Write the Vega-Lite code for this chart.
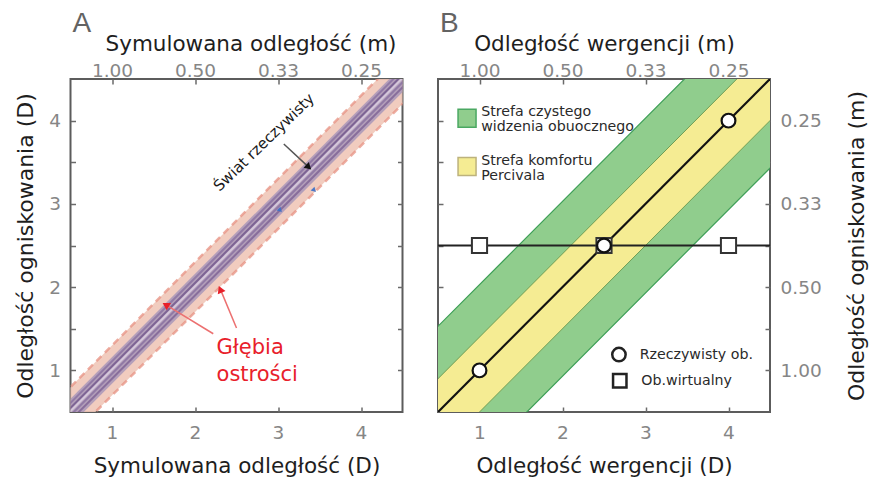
{
  "$schema": "https://vega.github.io/schema/vega-lite/v6.json",
  "background": "white",
  "padding": {"left": 13.5, "top": 9, "right": 2, "bottom": 5},
  "spacing": 35.5,
  "bounds": "flush",
  "config": {
    "view": {"stroke": "#5c5c5c", "strokeWidth": 2},
    "axis": {
      "domain": false,
      "grid": false,
      "tickColor": "#6a6a6a",
      "tickSize": -5,
      "tickWidth": 1.5,
      "labelFont": "DejaVu Sans",
      "labelFontSize": 18.5,
      "labelColor": "#868686",
      "titleFont": "DejaVu Sans",
      "titleFontSize": 21.5,
      "titleFontWeight": "normal",
      "titleColor": "#1e1e1e"
    },
    "title": {"font": "Liberation Sans", "fontSize": 28, "fontWeight": "normal", "color": "#636363", "anchor": "start", "frame": "group", "offset": -5, "dx": 2}
  },
  "hconcat": [
    {
      "title": {"text": "A"},
      "width": 332,
      "height": 333,
      "resolve": {"axis": {"x": "independent", "y": "independent"}},
      "layer": [
        {
          "data": {"values": [{"x": 0.2, "lo": -0.1, "hi": 0.5}, {"x": 4.8, "lo": 4.5, "hi": 5.1}]},
          "mark": {"type": "area", "clip": true, "color": "#f0c7b8", "opacity": 0.9},
          "encoding": {
            "x": {"field": "x", "type": "quantitative", "scale": {"domain": [0.5, 4.5], "nice": false, "zero": false},
              "axis": {"orient": "bottom", "values": [1, 2, 3, 4], "title": "Symulowana odległość (D)", "labelPadding": 16, "titlePadding": 14}},
            "y": {"field": "lo", "type": "quantitative", "scale": {"domain": [0.5, 4.5], "nice": false, "zero": false},
              "axis": {"orient": "left", "values": [1, 1.5, 2, 2.5, 3, 3.5, 4], "labelExpr": "datum.value % 1 === 0 ? format(datum.value, 'd') : ''", "title": "Odległość ogniskowania (D)", "titleFontSize": 22, "labelPadding": 15, "titlePadding": 11}},
            "y2": {"field": "hi"}
          }
        },
        {
          "data": {"values": [
            {"k": "lo", "x": 0.2, "y": -0.1}, {"k": "lo", "x": 4.8, "y": 4.5},
            {"k": "hi", "x": 0.2, "y": 0.5}, {"k": "hi", "x": 4.8, "y": 5.1}
          ]},
          "mark": {"type": "line", "clip": true, "color": "#e79283", "strokeWidth": 2.5, "strokeDash": [7, 5], "opacity": 0.75},
          "encoding": {
            "x": {"field": "x", "type": "quantitative", "scale": {"domain": [0.5, 4.5], "nice": false, "zero": false},
              "axis": {"orient": "top", "values": [1, 2, 3, 4], "labelExpr": "format(1 / datum.value, '.2f')", "title": "Symulowana odległość (m)", "labelPadding": 4, "titlePadding": 6, "titleX": 180}},
            "y": {"field": "y", "type": "quantitative", "scale": {"domain": [0.5, 4.5], "nice": false, "zero": false},
              "axis": {"orient": "right", "values": [1, 1.5, 2, 2.5, 3, 3.5, 4], "labels": false, "title": null}},
            "detail": {"field": "k"}
          }
        },
        {
          "data": {"values": [{"x": 0.2, "lo": 0.04, "hi": 0.36}, {"x": 4.8, "lo": 4.64, "hi": 4.96}]},
          "mark": {"type": "area", "clip": true, "color": "#a996b9", "opacity": 0.85},
          "encoding": {
            "x": {"field": "x", "type": "quantitative", "axis": null},
            "y": {"field": "lo", "type": "quantitative", "axis": null},
            "y2": {"field": "hi"}
          }
        },
        {
          "data": {"values": [
            {"k": "a", "x": 0.2, "y": 0.1}, {"k": "a", "x": 4.8, "y": 4.7},
            {"k": "b", "x": 0.2, "y": 0.16}, {"k": "b", "x": 4.8, "y": 4.76},
            {"k": "c", "x": 0.2, "y": 0.25}, {"k": "c", "x": 4.8, "y": 4.85},
            {"k": "d", "x": 0.2, "y": 0.31}, {"k": "d", "x": 4.8, "y": 4.91},
            {"k": "e", "x": 0.2, "y": 0.21}, {"k": "e", "x": 4.8, "y": 4.81}
          ]},
          "mark": {"type": "line", "clip": true, "strokeWidth": 2, "opacity": 0.7},
          "encoding": {
            "x": {"field": "x", "type": "quantitative", "axis": null},
            "y": {"field": "y", "type": "quantitative", "axis": null},
            "detail": {"field": "k"},
            "color": {"field": "k", "type": "nominal", "legend": null,
              "scale": {"domain": ["a", "b", "c", "d", "e"], "range": ["#75598f", "#826a9c", "#654a84", "#836b9e", "#e2d8ea"]}}
          }
        },
        {
          "data": {"values": [{"x": 3.02, "y": 2.93}, {"x": 3.43, "y": 3.17}]},
          "mark": {"type": "point", "shape": "triangle", "filled": true, "color": "#3b6fc6", "size": 30, "angle": 135, "opacity": 0.9},
          "encoding": {
            "x": {"field": "x", "type": "quantitative", "axis": null},
            "y": {"field": "y", "type": "quantitative", "axis": null}
          }
        },
        {
          "data": {"values": [{"x": 3.07, "y": 3.72, "x2": 3.36, "y2": 3.45}]},
          "mark": {"type": "rule", "color": "#555555", "strokeWidth": 1.5},
          "encoding": {
            "x": {"field": "x", "type": "quantitative", "axis": null},
            "y": {"field": "y", "type": "quantitative", "axis": null},
            "x2": {"field": "x2"},
            "y2": {"field": "y2"}
          }
        },
        {
          "data": {"values": [{"x": 3.36, "y": 3.45}]},
          "mark": {"type": "point", "shape": "triangle", "filled": true, "color": "#111111", "size": 60, "angle": 132, "opacity": 1},
          "encoding": {
            "x": {"field": "x", "type": "quantitative", "axis": null},
            "y": {"field": "y", "type": "quantitative", "axis": null}
          }
        },
        {
          "data": {"values": [{"x": 2.83, "y": 3.74, "t": "Świat rzeczywisty"}]},
          "mark": {"type": "text", "font": "DejaVu Sans", "fontSize": 15, "color": "#1a1a1a", "angle": 316, "align": "center", "baseline": "middle"},
          "encoding": {
            "x": {"field": "x", "type": "quantitative", "axis": null},
            "y": {"field": "y", "type": "quantitative", "axis": null},
            "text": {"field": "t"}
          }
        },
        {
          "data": {"values": [
            {"x": 2.22, "y": 1.44, "x2": 1.68, "y2": 1.77},
            {"x": 2.5, "y": 1.51, "x2": 2.32, "y2": 1.94}
          ]},
          "mark": {"type": "rule", "color": "#ec7070", "strokeWidth": 1.5},
          "encoding": {
            "x": {"field": "x", "type": "quantitative", "axis": null},
            "y": {"field": "y", "type": "quantitative", "axis": null},
            "x2": {"field": "x2"},
            "y2": {"field": "y2"}
          }
        },
        {
          "data": {"values": [{"x": 1.66, "y": 1.78}]},
          "mark": {"type": "point", "shape": "triangle", "filled": true, "color": "#e8202a", "size": 70, "angle": 301, "opacity": 1},
          "encoding": {
            "x": {"field": "x", "type": "quantitative", "axis": null},
            "y": {"field": "y", "type": "quantitative", "axis": null}
          }
        },
        {
          "data": {"values": [{"x": 2.31, "y": 1.96}]},
          "mark": {"type": "point", "shape": "triangle", "filled": true, "color": "#e8202a", "size": 70, "angle": 337, "opacity": 1},
          "encoding": {
            "x": {"field": "x", "type": "quantitative", "axis": null},
            "y": {"field": "y", "type": "quantitative", "axis": null}
          }
        },
        {
          "data": {"values": [{"x": 2.26, "y": 1.27, "t": "Głębia"}, {"x": 2.26, "y": 0.95, "t": "ostrości"}]},
          "mark": {"type": "text", "font": "DejaVu Sans", "fontSize": 21, "color": "#e8202a", "align": "left", "baseline": "middle"},
          "encoding": {
            "x": {"field": "x", "type": "quantitative", "axis": null},
            "y": {"field": "y", "type": "quantitative", "axis": null},
            "text": {"field": "t"}
          }
        }
      ]
    },
    {
      "title": {"text": "B"},
      "width": 332,
      "height": 333,
      "resolve": {"axis": {"x": "independent", "y": "independent"}},
      "layer": [
        {
          "data": {"values": [{"x": 0, "lo": -1.07, "hi": 1.03}, {"x": 5, "lo": 3.93, "hi": 6.03}]},
          "mark": {"type": "area", "clip": true, "color": "#90cd8d", "stroke": "#3d9f57", "strokeWidth": 1.2},
          "encoding": {
            "x": {"field": "x", "type": "quantitative", "scale": {"domain": [0.5, 4.5], "nice": false, "zero": false},
              "axis": {"orient": "bottom", "values": [1, 2, 3, 4], "title": "Odległość wergencji (D)", "labelPadding": 16, "titlePadding": 14}},
            "y": {"field": "lo", "type": "quantitative", "scale": {"domain": [0.5, 4.5], "nice": false, "zero": false},
              "axis": {"orient": "left", "values": [1, 1.5, 2, 2.5, 3, 3.5, 4], "labels": false, "title": null}},
            "y2": {"field": "hi"}
          }
        },
        {
          "data": {"values": [{"x": 0, "lo": -0.5, "hi": 0.4}, {"x": 5, "lo": 4.5, "hi": 5.4}]},
          "mark": {"type": "area", "clip": true, "color": "#f5ec93", "stroke": "#6f9e55", "strokeWidth": 1},
          "encoding": {
            "x": {"field": "x", "type": "quantitative", "scale": {"domain": [0.5, 4.5], "nice": false, "zero": false},
              "axis": {"orient": "top", "values": [1, 2, 3, 4], "labelExpr": "format(1 / datum.value, '.2f')", "title": "Odległość wergencji (m)", "labelPadding": 4, "titlePadding": 6}},
            "y": {"field": "lo", "type": "quantitative", "scale": {"domain": [0.5, 4.5], "nice": false, "zero": false},
              "axis": {"orient": "right", "values": [1, 1.5, 2, 2.5, 3, 3.5, 4], "labelExpr": "datum.value % 1 === 0 ? format(1 / datum.value, '.2f') : ''", "title": "Odległość ogniskowania (m)", "titleAngle": 270, "titleBaseline": "top", "titleFontSize": 22, "labelPadding": 15, "titlePadding": 25}},
            "y2": {"field": "hi"}
          }
        },
        {
          "data": {"values": [{"x": 0.5, "y": 0.5}, {"x": 4.5, "y": 4.5}]},
          "mark": {"type": "line", "clip": true, "color": "#111111", "strokeWidth": 2.2},
          "encoding": {
            "x": {"field": "x", "type": "quantitative", "axis": null},
            "y": {"field": "y", "type": "quantitative", "axis": null}
          }
        },
        {
          "data": {"values": [{"y": 2.5}]},
          "mark": {"type": "rule", "color": "#222222", "strokeWidth": 2},
          "encoding": {
            "y": {"field": "y", "type": "quantitative", "axis": null}
          }
        },
        {
          "data": {"values": [{"x": 1, "y": 2.5}, {"x": 2.5, "y": 2.5}, {"x": 4, "y": 2.5}]},
          "mark": {"type": "point", "shape": "square", "filled": true, "fill": "white", "stroke": "#333333", "strokeWidth": 2, "size": 230, "opacity": 1},
          "encoding": {
            "x": {"field": "x", "type": "quantitative", "axis": null},
            "y": {"field": "y", "type": "quantitative", "axis": null}
          }
        },
        {
          "data": {"values": [{"x": 1, "y": 1}, {"x": 2.5, "y": 2.5}, {"x": 4, "y": 4}]},
          "mark": {"type": "point", "shape": "circle", "filled": true, "fill": "white", "stroke": "#111111", "strokeWidth": 2.2, "size": 190, "opacity": 1},
          "encoding": {
            "x": {"field": "x", "type": "quantitative", "axis": null},
            "y": {"field": "y", "type": "quantitative", "axis": null}
          }
        },
        {
          "data": {"values": [{"zone": "green", "x": 0.85, "y": 4.03}, {"zone": "yellow", "x": 0.85, "y": 3.45}]},
          "mark": {"type": "point", "shape": "square", "filled": true, "size": 324, "strokeWidth": 1.5, "opacity": 1},
          "encoding": {
            "x": {"field": "x", "type": "quantitative", "axis": null},
            "y": {"field": "y", "type": "quantitative", "axis": null},
            "fill": {"field": "zone", "type": "nominal", "legend": null, "scale": {"domain": ["green", "yellow"], "range": ["#90cd8d", "#f5ec93"]}},
            "stroke": {"field": "zone", "type": "nominal", "legend": null, "scale": {"domain": ["green", "yellow"], "range": ["#4aa862", "#bdb27c"]}}
          }
        },
        {
          "data": {"values": [
            {"x": 1.02, "y": 4.1, "t": "Strefa czystego"},
            {"x": 1.02, "y": 3.92, "t": "widzenia obuocznego"},
            {"x": 1.02, "y": 3.52, "t": "Strefa komfortu"},
            {"x": 1.02, "y": 3.34, "t": "Percivala"},
            {"x": 2.93, "y": 1.19, "t": "Rzeczywisty ob."},
            {"x": 2.95, "y": 0.876, "t": "Ob.wirtualny"}
          ]},
          "mark": {"type": "text", "font": "DejaVu Sans", "fontSize": 14.2, "color": "#2a2a2a", "align": "left", "baseline": "middle"},
          "encoding": {
            "x": {"field": "x", "type": "quantitative", "axis": null},
            "y": {"field": "y", "type": "quantitative", "axis": null},
            "text": {"field": "t"}
          }
        },
        {
          "data": {"values": [{"s": "circle", "x": 2.68, "y": 1.19}, {"s": "square", "x": 2.69, "y": 0.876}]},
          "mark": {"type": "point", "filled": true, "fill": "white", "stroke": "#222222", "strokeWidth": 2.5, "size": 180, "opacity": 1},
          "encoding": {
            "x": {"field": "x", "type": "quantitative", "axis": null},
            "y": {"field": "y", "type": "quantitative", "axis": null},
            "shape": {"field": "s", "type": "nominal", "legend": null, "scale": {"domain": ["circle", "square"], "range": ["circle", "square"]}}
          }
        }
      ]
    }
  ]
}
